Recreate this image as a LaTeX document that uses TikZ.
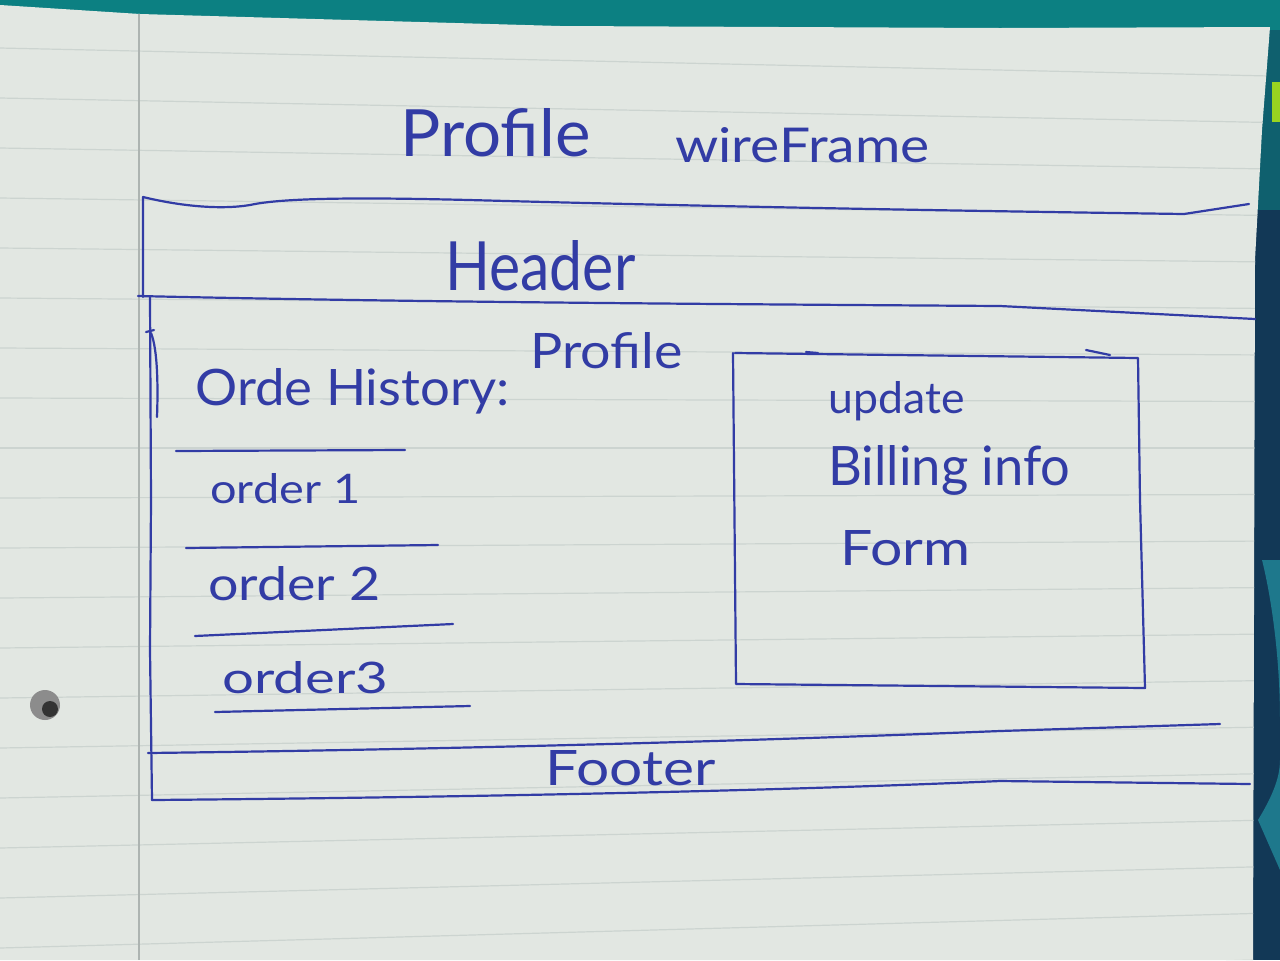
\documentclass[tikz,border=0pt]{standalone}
\usepackage{fontspec}
\setmainfont{Lato}
\usepackage{graphicx}
\definecolor{ink}{RGB}{50,60,165}
\definecolor{paper}{RGB}{226,231,226}
\definecolor{ruling}{RGB}{204,212,208}
\definecolor{cloth}{RGB}{12,128,130}
\definecolor{clothdark}{RGB}{18,56,86}
\definecolor{clothlight}{RGB}{30,120,140}
% set a word to a given width and height
\newcommand{\fitwh}[3]{\resizebox{#1}{#2}{#3}}
\begin{document}
\begin{tikzpicture}[x=0.5pt,y=-0.5pt,
  pen/.style={draw=ink,line width=1.1pt,line cap=round,line join=round},
  hand/.style={text=ink,inner sep=0pt,anchor=base west}]
\useasboundingbox (0,0) rectangle (1280,960);

% fabric under the sheet
\fill[cloth] (0,0) rectangle (1280,960);
\fill[clothdark] (1240,30) rectangle (1280,960);
\fill[cloth!55!clothdark] (1250,30) rectangle (1280,210);
\fill[clothlight] (1262,560) .. controls (1272,600) and (1280,660) .. (1280,720) -- (1280,560) -- cycle;
\fill[clothlight] (1258,820) .. controls (1270,800) and (1280,780) .. (1280,760) -- (1280,870) -- cycle;
\fill[yellow!60!green] (1272,82) rectangle (1280,122);

% the ruled sheet
\path[fill=paper] (0,5) -- (140,14) -- (560,26) -- (1000,28) -- (1270,27)
  -- (1262,130) -- (1255,260) -- (1253,960) -- (0,960) -- cycle;
\begin{scope}
  \clip (0,5) -- (140,14) -- (560,26) -- (1000,28) -- (1270,27)
    -- (1262,130) -- (1255,260) -- (1253,960) -- (0,960) -- cycle;
  \foreach \k in {-6,...,13}{
    \draw[ruling,line width=0.6pt] (0,{348+50*\k}) -- (1270,{355+46.5*\k});
  }
  \draw[ruling!85!black,line width=0.6pt] (139,0) -- (139,960);
\end{scope}

% punched hole
\fill[black!45] (45,705) circle (15);
\fill[black!80] (50,709) circle (8);

% title
\node[hand] (title1) at (400,156) {\fitwh{95pt}{24pt}{Profile}};
\node[hand] (title2) at (675,162) {\fitwh{127pt}{17.5pt}{wireFrame}};

% header band
\draw[pen] (143,297) -- (143,197) .. controls (180,206) and (220,210) .. (250,205)
  .. controls (290,196) and (400,198) .. (506,201)
  .. controls (700,206) and (900,210) .. (1184,214) -- (1249,204);
\draw[pen] (138,296) .. controls (400,302) and (700,304) .. (1000,306) -- (1255,319);
\node[hand] (header) at (445,290) {\fitwh{95pt}{25pt}{Header}};

% main content frame and footer
\draw[pen] (150,297) -- (151,500) -- (150,650) -- (152,800);
\draw[pen] (146,332) -- (154,330);
\draw[pen] (151,333) .. controls (158,350) and (158,390) .. (157,417);
\draw[pen] (148,753) .. controls (400,750) and (700,743) .. (1000,731) -- (1220,724);
\draw[pen] (152,800) .. controls (500,797) and (800,790) .. (1000,781) -- (1250,784);
\node[hand] (footer) at (545,785) {\fitwh{85pt}{17.5pt}{Footer}};
\node[hand] (profile) at (530,368) {\fitwh{76pt}{18pt}{Profile}};

% order history list
\node[hand] (history) at (195,405) {\fitwh{157pt}{18.5pt}{Orde History:}};
\draw[pen] (176,451) -- (405,450);
\node[hand] (order1) at (210,503) {\fitwh{75pt}{15pt}{order 1}};
\draw[pen] (186,548) -- (438,545);
\node[hand] (order2) at (208,600) {\fitwh{86pt}{17pt}{order 2}};
\draw[pen] (195,636) -- (453,624);
\node[hand] (order3) at (222,693) {\fitwh{83pt}{16pt}{order3}};
\draw[pen] (215,712) -- (470,706);

% billing form box
\draw[pen] (735,353) -- (1138,358) -- (1140,500) -- (1145,688) -- (736,684) -- (733,353);
\draw[pen] (806,352) -- (818,353);
\draw[pen] (1086,350) -- (1110,355);
\node[hand] (update) at (828,413) {\fitwh{68pt}{16pt}{update}};
\node[hand] (billing) at (828,485) {\fitwh{121pt}{20pt}{Billing info}};
\node[hand] (form) at (840,565) {\fitwh{65pt}{17.5pt}{Form}};
\end{tikzpicture}
\end{document}
